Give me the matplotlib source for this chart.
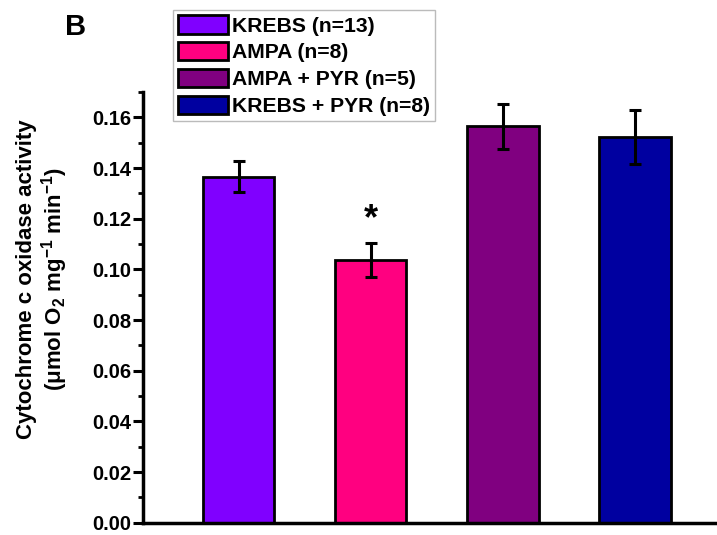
import numpy as np
import matplotlib.pyplot as plt
from matplotlib.ticker import MultipleLocator

labels = ['KREBS (n=13)', 'AMPA (n=8)', 'AMPA + PYR (n=5)', 'KREBS + PYR (n=8)']
values = [0.1366, 0.1038, 0.1564, 0.1522]
errors = [0.0060, 0.0068, 0.0090, 0.0108]
colors = ['#8000FF', '#FF0080', '#800080', '#0000A0']
star_bar = 1

plt.rcParams['font.family'] = ['Liberation Sans', 'DejaVu Sans']
plt.rcParams['font.weight'] = 'bold'
plt.rcParams['mathtext.fontset'] = 'custom'
plt.rcParams['mathtext.bf'] = 'Liberation Sans:bold'
plt.rcParams['mathtext.rm'] = 'Liberation Sans:bold'
plt.rcParams['mathtext.it'] = 'Liberation Sans:bold'

fig = plt.figure(figsize=(7.17, 5.35), dpi=100)
ax = fig.add_axes([0.200, 0.023, 0.80, 0.805])

x = np.arange(1, len(values) + 1)
bars = ax.bar(x, values, width=0.54, color=colors, edgecolor='black',
              linewidth=2, label=labels, zorder=2)
ax.errorbar(x, values, yerr=errors, fmt='none', ecolor='black',
            elinewidth=2.2, capsize=4, capthick=2.2, zorder=3)

ax.text(x[star_bar], values[star_bar] + errors[star_bar] + 0.002, '*',
        ha='center', va='bottom', fontsize=26, fontweight='bold')

ax.set_xlim(0.28, 4.62)
ax.set_ylim(0, 0.170)
ax.yaxis.set_major_locator(MultipleLocator(0.02))
ax.yaxis.set_minor_locator(MultipleLocator(0.01))
ax.yaxis.set_major_formatter(plt.FormatStrFormatter('%.2f'))
ax.set_xticks([])

for s in ['top', 'right']:
    ax.spines[s].set_visible(False)
for s in ['left', 'bottom']:
    ax.spines[s].set_linewidth(2.5)

ax.tick_params(axis='y', which='major', direction='out', length=7, width=2.2,
               labelsize=14.5, pad=2)
ax.tick_params(axis='y', which='minor', direction='out', length=3.5, width=2)
for t in ax.get_yticklabels():
    t.set_fontweight('bold')

ax.set_ylabel('Cytochrome c oxidase activity\n'
              r'($\mathbf{\mu}$mol O$_\mathbf{2}$ mg$^\mathbf{-1}$ min$^\mathbf{-1}$)',
              fontsize=16, fontweight='bold', linespacing=1.1)
ax.yaxis.set_label_coords(-0.128, 0.565)

leg = ax.legend(handles=bars, labels=labels, loc='upper left',
                bbox_to_anchor=(0.241, 0.981), bbox_transform=fig.transFigure,
                fontsize=15.2, frameon=True, fancybox=False, edgecolor='#aaaaaa',
                handlelength=2.35, handleheight=0.95, handletextpad=0.2,
                labelspacing=0.3, borderpad=0.25, borderaxespad=0)
leg.get_frame().set_linewidth(1)
for t in leg.get_texts():
    t.set_fontweight('bold')

fig.text(0.0907, 0.935, 'B', fontsize=21, fontweight='bold')

fig.savefig('out.png', dpi=100)
